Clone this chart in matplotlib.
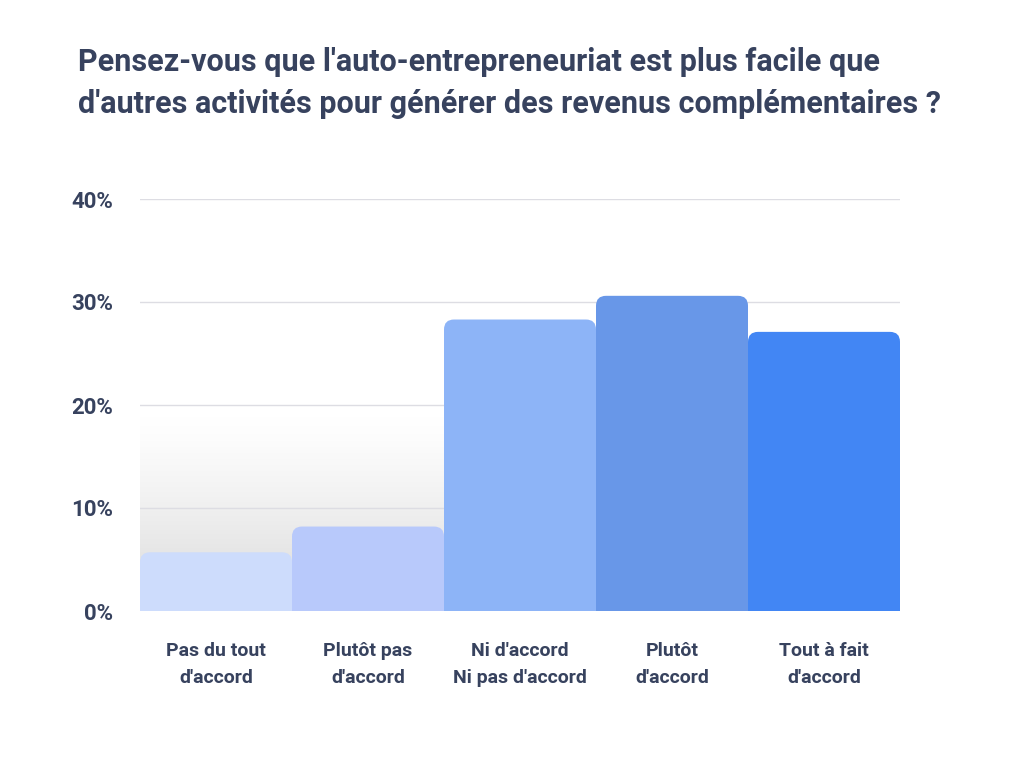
import numpy as np
import matplotlib
matplotlib.use("Agg")
import matplotlib.pyplot as plt
from matplotlib.patches import FancyBboxPatch, Rectangle

categories = ["Pas du tout\nd'accord", "Plutôt pas\nd'accord", "Ni d'accord\nNi pas d'accord",
              "Plutôt\nd'accord", "Tout à fait\nd'accord"]
values = [5.7, 8.2, 28.3, 30.6, 27.1]
colors = ["#cddcfc", "#b8c9fb", "#8db4f7", "#6897e8", "#4286f4"]
yticks = [0, 10, 20, 30, 40]

text_color = "#37425e"
plt.rcParams['font.family'] = ['Roboto', 'DejaVu Sans']

fig = plt.figure(figsize=(10.24, 7.68), dpi=100)
ax = fig.add_axes([140 / 1024, 1 - 611 / 768, 760 / 1024, 412 / 768])
ax.set_xlim(-0.5, len(values) - 0.5)
ax.set_ylim(0, 40)

# grey shadow gradient behind the first two bars (white at top, grey at bottom)
grad = np.linspace(1, 0, 256).reshape(-1, 1) ** 1.25
cmap = matplotlib.colors.LinearSegmentedColormap.from_list("g", ["#ffffff", "#d8d8d8"])
ax.imshow(grad, extent=(-0.5, 1.5, 0, 19), aspect='auto', cmap=cmap,
          origin='lower', zorder=0.5, interpolation='bicubic')

for y in yticks:
    ax.axhline(y, color="#dddde3", lw=1, zorder=1)

# rounded-top bars
px_x = 760 / len(values)
px_y = 412 / 40
r = 10 / px_x
for i, (v, c) in enumerate(zip(values, colors)):
    x0 = i - 0.5
    box = FancyBboxPatch((x0, 0), 1, v, boxstyle=f"round,pad=0,rounding_size={r}",
                         mutation_aspect=px_x / px_y, fc=c, ec='none', zorder=2)
    ax.add_patch(box)
    ax.add_patch(Rectangle((x0, 0), 1, v / 2, fc=c, ec='none', zorder=2))

ax.set_yticks(yticks)
ax.set_yticklabels([f"{t}%" for t in yticks], fontsize=16, fontweight='bold', color=text_color)
ax.set_xticks(range(len(values)))
ax.set_xticklabels(categories, fontsize=14, fontweight='semibold', color=text_color, linespacing=1.7)
ax.tick_params(axis='both', length=0)
ax.tick_params(axis='y', pad=19)
ax.tick_params(axis='x', pad=22)
for s in ax.spines.values():
    s.set_visible(False)

fig.text(78 / 1024, 1 - 47 / 768,
         "Pensez-vous que l'auto-entrepreneuriat est plus facile que\n"
         "d'autres activités pour générer des revenus complémentaires ?",
         fontsize=22, fontweight='bold', color=text_color, va='top', ha='left', linespacing=1.5)

fig.savefig("out.png", dpi=100)
